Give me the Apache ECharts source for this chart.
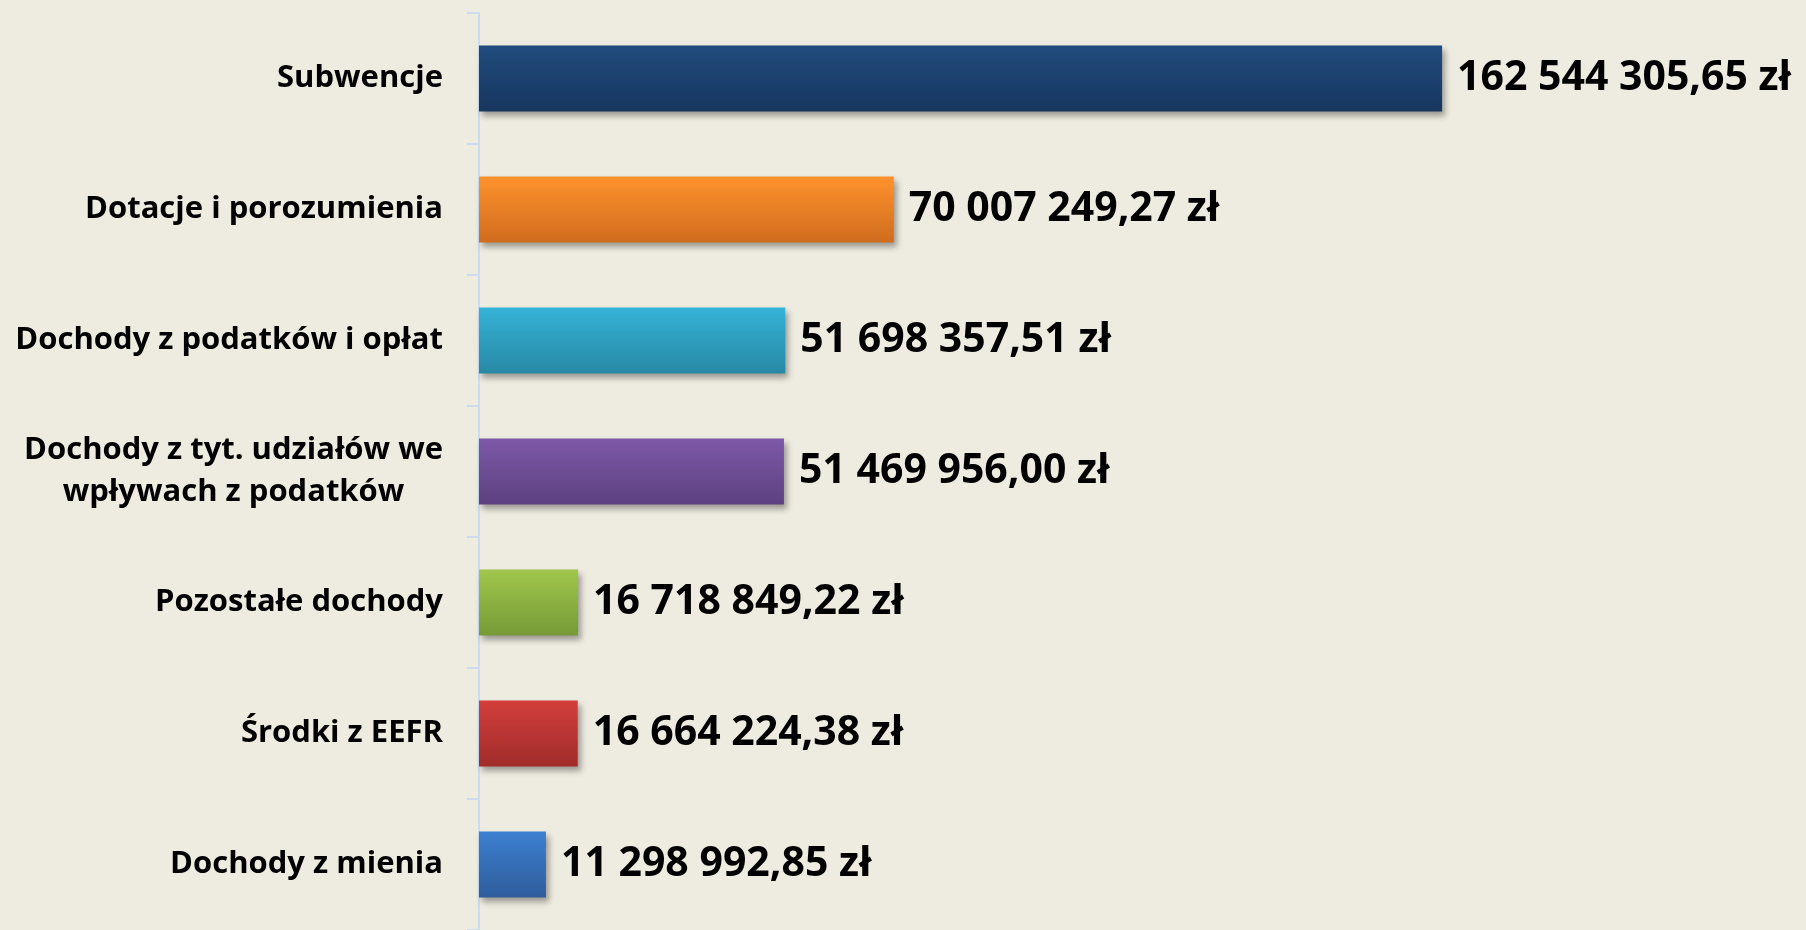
<!DOCTYPE html>
<html>
<head>
<meta charset="utf-8">
<script src="https://cdn.jsdelivr.net/npm/echarts@6/dist/echarts.min.js"></script>
<style>
html, body { margin: 0; padding: 0; background: #EEEBE0; }
#container { width: 1806px; height: 930px; }
</style>
</head>
<body>
<div id="container"></div>
<script>
var kategorie = ['Subwencje', 'Dotacje i porozumienia', 'Dochody z podatków i opłat',
	'Dochody z tyt. udziałów we\nwpływach z podatków', 'Pozostałe dochody', 'Środki z EEFR', 'Dochody z mienia'];
var kwoty = [162544305.65, 70007249.27, 51698357.51, 51469956.00, 16718849.22, 16664224.38, 11298992.85];
var kolory = [ // gora, dol
	['#214C7E', '#17365E'],
	['#FF922C', '#CF6C1E'],
	['#35B3D8', '#2788A4'],
	['#7D58A8', '#5D4180'],
	['#A0C74C', '#769A36'],
	['#D33E3C', '#A02C2A'],
	['#3C80D0', '#2E5D9C']
];

function zl(v) {
	var s = v.toFixed(2).split('.');
	return s[0].replace(/\B(?=(\d{3})+(?!\d))/g, ' ') + ',' + s[1] + ' zł';
}

var dane = [];
for (var i = 0; i < kwoty.length; i++) {
	dane.push({
		value: kwoty[i],
		itemStyle: {
			color: new echarts.graphic.LinearGradient(0, 0, 0, 1, [
				{ offset: 0, color: kolory[i][0] },
				{ offset: 1, color: kolory[i][1] }
			])
		}
	});
}

var myChart = echarts.init(document.getElementById('container'));
myChart.setOption({
	backgroundColor: '#EEEBE0',
	animation: false,
	grid: { left: 479, top: 13, height: 919, right: 142 },
	xAxis: {
		type: 'value',
		min: 0,
		max: 200000000,
		show: false
	},
	yAxis: {
		type: 'category',
		inverse: true,
		data: kategorie,
		axisLine: { show: true, lineStyle: { color: '#CCDCEF', width: 2 } },
		axisTick: { show: true, length: 12, lineStyle: { color: '#CCDCEF', width: 2 } },
		axisLabel: {
			margin: 36,
			formatter: function (v) {
				return v.split('\n').map(function (l) { return '{c|' + l + '}'; }).join('\n');
			},
			rich: {
				c: {
					align: 'center',
					fontFamily: 'Open Sans',
					fontWeight: 'bold',
					fontSize: 31,
					lineHeight: 42,
					color: '#000'
				}
			}
		}
	},
	series: [{
		type: 'bar',
		barWidth: 66,
		data: dane,
		itemStyle: {
			shadowColor: 'rgba(0,0,0,0.35)',
			shadowBlur: 6,
			shadowOffsetX: 3,
			shadowOffsetY: 4
		},
		label: {
			show: true,
			position: 'right',
			distance: 15,
			formatter: function (p) { return zl(p.value); },
			fontFamily: 'Open Sans',
			fontWeight: 'bold',
			fontSize: 41,
			color: '#000'
		}
	}]
});
</script>
</body>
</html>
